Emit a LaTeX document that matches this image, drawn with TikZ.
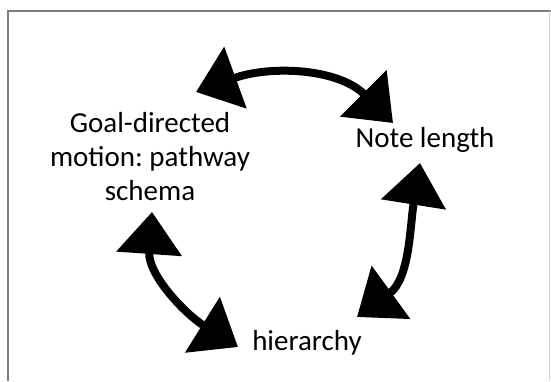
\documentclass[tikz,border=0pt]{standalone}
\usepackage{fontspec}
\setmainfont{Carlito}
\usepackage{tikz}
\usetikzlibrary{positioning,arrows.meta}
\definecolor{fdFrame}{RGB}{125,125,125}
\definecolor{fdInk}{RGB}{0,0,0}
\frenchspacing

\begin{document}
\begin{tikzpicture}[x=1pt, y=1pt,
  concept/.style={font=\fontsize{29}{34}\selectfont, align=center, inner sep=0pt},
  link/.style={fdInk, line width=8pt, {Triangle[length=42pt,width=64pt]}-{Triangle[length=42pt,width=64pt]}}]
  \useasboundingbox (0,0) rectangle (551,381);
  % Frame
  \draw[fdFrame, line width=1.5pt] (8,0) -- (8,370) -- (551,370);
  \draw[fdFrame!35, line width=0.8pt] (549.5,0) -- (549.5,370);

  % Concepts
  \node[concept] (goal) at (150,224) {Goal-directed\\motion: pathway\\schema};
  \node[concept, anchor=base] (note) at (425,234) {Note length};
  \node[concept, anchor=base] (hier) at (307,31) {hierarchy};

  % Arrow tips
  \coordinate (g1) at (196,289);
  \coordinate (n1) at (393,258);
  \coordinate (n2) at (420,218);
  \coordinate (h1) at (357,64);
  \coordinate (h2) at (238,34);
  \coordinate (g2) at (152,169);

  % Arrows
  \draw[link] (g1) to[out=20, in=135] (n1);
  \draw[link] (n2) to[out=261, in=36] (h1);
  \draw[link] (g2) to[out=266, in=148] (h2);
\end{tikzpicture}
\end{document}
